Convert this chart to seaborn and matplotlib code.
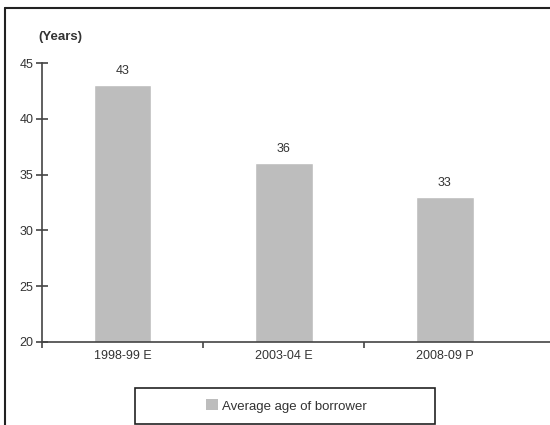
import matplotlib
matplotlib.use("Agg")
import matplotlib.pyplot as plt
from matplotlib.lines import Line2D
from matplotlib.patches import Patch, Rectangle
import seaborn as sns
import pandas as pd

periods = ["1998-99 E", "2003-04 E", "2008-09 P"]
avg_age = [43, 36, 33]
series_name = "Average age of borrower"
y_ticks = [20, 25, 30, 35, 40, 45]

sns.set_theme(style="white")
plt.rcParams["font.family"] = ["Liberation Sans", "DejaVu Sans"]

bar_color = "#bdbdbd"
ink = "#333333"

df = pd.DataFrame({"period": periods, "age": avg_age})

fig = plt.figure(figsize=(5.5, 4.25), dpi=100)
ax = fig.add_axes([42 / 550, 1 - 342 / 425, 1 - 42 / 550, (342 - 63) / 425])

sns.barplot(data=df, x="period", y="age", color=bar_color, width=0.36,
            saturation=1, ax=ax)

ax.set_ylim(20, 45)
ax.set_xlim(-0.5, 2.655)
ax.set_yticks(y_ticks)
ax.set_xlabel("")
ax.set_ylabel("")

for c in ax.containers:
    ax.bar_label(c, labels=[str(v) for v in avg_age], padding=6,
                 fontsize=9, color=ink)

for side in ["top", "right"]:
    ax.spines[side].set_visible(False)
for side in ["left", "bottom"]:
    ax.spines[side].set_color("#444444")
    ax.spines[side].set_linewidth(1.2)

ax.tick_params(axis="y", direction="inout", length=8, width=1.2,
               color="#444444", labelsize=9, labelcolor=ink, pad=2, left=True)
ax.tick_params(axis="x", which="major", length=0, labelsize=9,
               labelcolor=ink, pad=6)
ax.set_xticks([-0.5, 0.5, 1.5], minor=True)
ax.tick_params(axis="x", which="minor", direction="out", length=4, width=1.2,
               color="#444444", bottom=True)

fig.text(38 / 550, 1 - 37 / 425, "(Years)", fontsize=9.5, fontweight="bold",
         color=ink, ha="left", va="center")

# legend box below the plot
fig.add_artist(Rectangle((135 / 550, 1 - 424 / 425), 300 / 550, 36 / 425,
                         transform=fig.transFigure, fill=False,
                         edgecolor="#222222", linewidth=1.2))
fig.legend(handles=[Patch(facecolor=bar_color, edgecolor="none",
                          label=series_name)],
           loc="center", bbox_to_anchor=(286 / 550, 1 - 406 / 425),
           frameon=False, fontsize=9.5, handlelength=0.9, handleheight=0.9,
           handletextpad=0.3, labelcolor=ink)

# outer frame
fig.add_artist(Line2D([5 / 550, 5 / 550], [0, 1 - 8 / 425],
                      transform=fig.transFigure, color="#222222", linewidth=1.5))
fig.add_artist(Line2D([5 / 550, 1], [1 - 8 / 425, 1 - 8 / 425],
                      transform=fig.transFigure, color="#222222", linewidth=1.5))

fig.savefig("out.png", dpi=100)
